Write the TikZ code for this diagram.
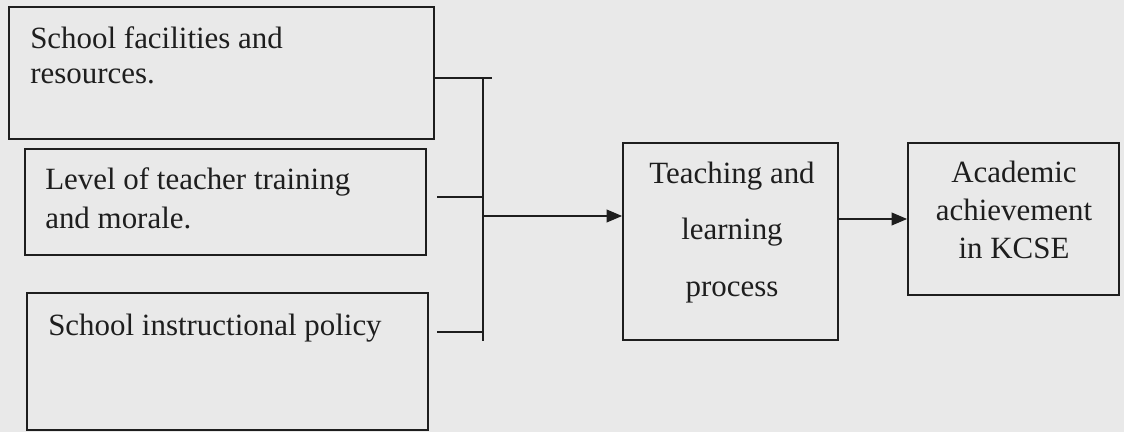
\documentclass[tikz,border=0pt]{standalone}
\usepackage{fontspec}
\setmainfont{Liberation Serif}
\usetikzlibrary{arrows.meta,positioning}

\definecolor{paper}{RGB}{233,233,233}
\definecolor{ink}{RGB}{30,30,30}

\tikzset{
    box/.style={draw=ink, line width=1.2pt, inner sep=0pt},
    lbl/.style={inner sep=0pt, text=ink, font=\fontsize{22}{25}\selectfont},
    wire/.style={draw=ink, line width=1.2pt},
    arrow/.style={wire, -{Triangle[length=11pt,width=9pt]}}
}

\begin{document}
\begin{tikzpicture}[x=0.025cm,y=-0.025cm]
    \fill[paper](0,0)rectangle(1124,432);
    \useasboundingbox(0,0)rectangle(1124,432);

    % factors
    \node[box, minimum width=10.625cm, minimum height=3.3cm](fac)at(221.5,73){};
    \node[box, minimum width=10.025cm, minimum height=2.65cm](lvl)at(225.5,202){};
    \node[box, minimum width=10.025cm, minimum height=3.425cm](pol)at(227.5,361.5){};
    \node[lbl, anchor=north west, align=left](faclbl)at(30,26){School facilities and\\resources.};
    \node[lbl, anchor=north west, align=left, font=\fontsize{22}{28}\selectfont](lvllbl)at(45,167){Level of teacher training\\and morale.};
    \node[lbl, anchor=base west](pollbl)at(48,335){School instructional policy};

    % process and outcome
    \node[box, minimum width=5.375cm, minimum height=4.925cm](teach)at(730.5,241.5){};
    \node[box, minimum width=5.275cm, minimum height=3.8cm](acad)at(1013.5,219){};
    \node[lbl, anchor=north, align=center, font=\fontsize{22}{40}\selectfont](teachlbl)at(732,162){Teaching and\\learning\\process};
    \node[lbl, anchor=north, align=center, font=\fontsize{22}{27}\selectfont](acadlbl)at(1014,161){Academic\\achievement\\in KCSE};

    % bus
    \coordinate(busend)at(492,78);
    \coordinate(bustop)at(483,78);
    \coordinate(busmid)at(483,216);
    \coordinate(busbot)at(483,341);
    \coordinate(lvlstub)at(437,197);
    \coordinate(polstub)at(437,332);

    \draw[wire](fac.east|-busend)--(busend);
    \draw[wire](lvlstub)--(lvlstub-|bustop);
    \draw[wire](polstub)--(polstub-|bustop);
    \draw[wire](bustop)--(busbot);
    \draw[arrow](busmid)--(teach.west|-busmid);
    \draw[arrow](teach.east|-acad.west)--(acad.west);
\end{tikzpicture}
\end{document}
